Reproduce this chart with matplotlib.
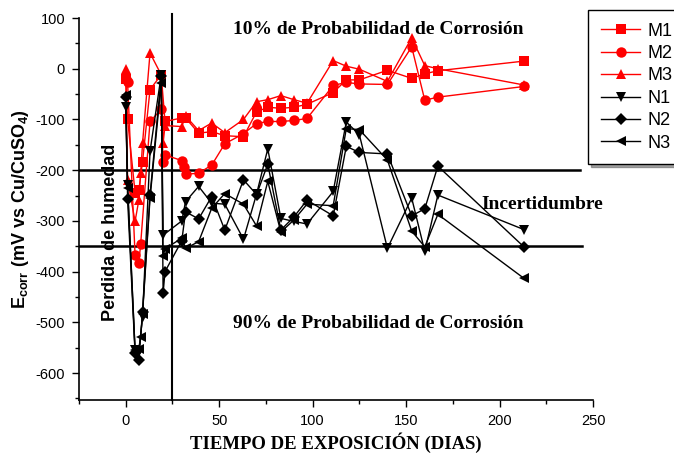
import matplotlib
matplotlib.use("Agg")
import matplotlib.pyplot as plt

plt.rcParams["axes.unicode_minus"] = False

# ---- data ----
M1_days = [0, 1, 5, 7, 9, 13, 19, 21, 30, 32, 39, 46, 53, 63, 70, 76, 83, 90, 97, 111, 118, 125, 140, 153, 160, 167, 213]
M1 = [-20, -100, -244, -240, -183, -41, -12, -104, -97, -97, -127, -124, -132, -134, -85, -76, -78, -76, -70, -47, -22, -22, -3, -19, -10, -4, 15]

M2_days = [0, 1, 5, 7, 8, 13, 19, 20, 21, 30, 31, 32, 39, 46, 53, 63, 70, 76, 83, 90, 97, 111, 118, 125, 140, 153, 160, 167, 213]
M2 = [-20, -27, -368, -383, -345, -104, -80, -183, -170, -181, -193, -208, -206, -190, -148, -128, -108, -104, -104, -102, -98, -33, -27, -30, -31, 43, -62, -56, -35]

M3_days = [0, 1, 5, 7, 8, 9, 13, 19, 20, 21, 30, 32, 39, 46, 53, 63, 70, 76, 83, 90, 97, 111, 118, 125, 140, 153, 160, 167, 213]
M3 = [0, -220, -301, -259, -206, -147, 31, -12, -147, -112, -114, -93, -122, -107, -126, -100, -65, -61, -53, -61, -68, 16, 5, -1, -25, 61, 6, 0, -32]

N1_days = [0, 1, 5, 7, 9, 13, 19, 20, 30, 32, 39, 46, 53, 63, 70, 76, 83, 90, 97, 111, 118, 125, 140, 153, 160, 167, 213]
N1 = [-76, -230, -555, -558, -489, -163, -12, -328, -300, -262, -232, -265, -267, -336, -247, -158, -295, -301, -306, -242, -105, -130, -354, -255, -360, -249, -317]

N2_days = [0, 1, 5, 7, 9, 13, 19, 20, 21, 30, 32, 39, 46, 53, 63, 70, 76, 83, 90, 97, 111, 118, 125, 140, 153, 160, 167, 213]
N2 = [-55, -257, -561, -575, -479, -249, -15, -443, -400, -339, -282, -296, -252, -318, -219, -248, -188, -318, -292, -259, -290, -153, -165, -168, -290, -276, -192, -351]

N3_days = [0, 1, 5, 7, 8, 9, 13, 19, 20, 21, 30, 32, 39, 46, 53, 63, 70, 76, 83, 90, 97, 111, 118, 125, 140, 153, 160, 167, 213]
N3 = [-51, -235, -555, -552, -528, -483, -255, -28, -370, -355, -334, -354, -341, -275, -246, -267, -310, -222, -322, -298, -267, -270, -118, -120, -180, -320, -351, -287, -413]

series_labels = ["M1", "M2", "M3", "N1", "N2", "N3"]
threshold_high = -200
threshold_low = -350
humidity_day = 25

SANS = ["Liberation Sans", "DejaVu Sans"]
SERIF = ["Liberation Serif", "DejaVu Serif"]

fig = plt.figure(figsize=(6.74, 4.55), dpi=100)
ax = fig.add_axes([79/674, 55/455, (593-79)/674, (400-18)/455])

red = "#ff0000"
styles = [
    (M1_days, M1, red, "s"),
    (M2_days, M2, red, "o"),
    (M3_days, M3, red, "^"),
    (N1_days, N1, "black", "v"),
    (N2_days, N2, "black", "D"),
    (N3_days, N3, "black", "<"),
]
handles = []
for (d, v, c, m), lab in zip(styles, series_labels):
    ms = 6.5 if m == "D" else 7.5
    h, = ax.plot(d, v, color=c, marker=m, markersize=ms, lw=1.0,
                 markeredgewidth=0, label=lab, zorder=3)
    handles.append(h)

ax.set_xlim(-25, 250)
ax.set_ylim(-653, 100)

# threshold lines
ax.plot([-25, 243], [threshold_high, threshold_high], color="black", lw=1.8, zorder=2)
ax.plot([-25, 244], [threshold_low, threshold_low], color="black", lw=1.8, zorder=2)
ax.plot([humidity_day, humidity_day], [-653, 108], color="black", lw=1.5,
        clip_on=False, zorder=2)

for s in ["top", "right"]:
    ax.spines[s].set_visible(False)
ax.spines["left"].set_linewidth(1.2)
ax.spines["bottom"].set_linewidth(1.2)

ax.set_xticks([0, 50, 100, 150, 200, 250])
ax.set_xticks([-25, 25, 75, 125, 175, 225], minor=True)
ax.set_yticks([100, 0, -100, -200, -300, -400, -500, -600])
ax.set_yticks([50, -50, -150, -250, -350, -450, -550, -650], minor=True)
ax.tick_params(which="both", direction="out", length=5, width=1)
ax.tick_params(which="minor", length=3)
ax.tick_params(axis="both", labelsize=10.5, pad=5)
for lab in ax.get_xticklabels() + ax.get_yticklabels():
    lab.set_family(SANS)

ax.set_xlabel("TIEMPO DE EXPOSICIÓN (DIAS)", family=SERIF, fontweight="bold",
              fontsize=13.5, labelpad=3)
ax.set_ylabel(r"E$_{\mathregular{corr}}$ (mV vs Cu/CuSO$_{\mathregular{4}}$)", family=SANS,
              fontweight="bold", fontsize=13, labelpad=3)

ax.text(135, 77, "10% de Probabilidad de Corrosión", family=SERIF, fontweight="bold",
        fontsize=14, ha="center", va="center")
ax.text(135, -502, "90% de Probabilidad de Corrosión", family=SERIF, fontweight="bold",
        fontsize=14, ha="center", va="center")
ax.text(223, -268, "Incertidumbre", family=SERIF, fontweight="bold",
        fontsize=14, ha="center", va="center", clip_on=False)
ax.text(-8, -323, "Perdida de humedad", family=SANS, fontweight="bold",
        fontsize=13, rotation=90, ha="center", va="center")

leg = fig.legend(handles=handles, loc="upper left",
                 bbox_to_anchor=(588/674, 1 - 10/455), borderaxespad=0,
                 frameon=True, fancybox=False, shadow=True, edgecolor="black",
                 prop={"family": SANS, "size": 13}, handlelength=2.2,
                 labelspacing=0.3, borderpad=0.7, handletextpad=0.4)
leg.get_frame().set_linewidth(1.0)

fig.savefig("out.png", dpi=100)
